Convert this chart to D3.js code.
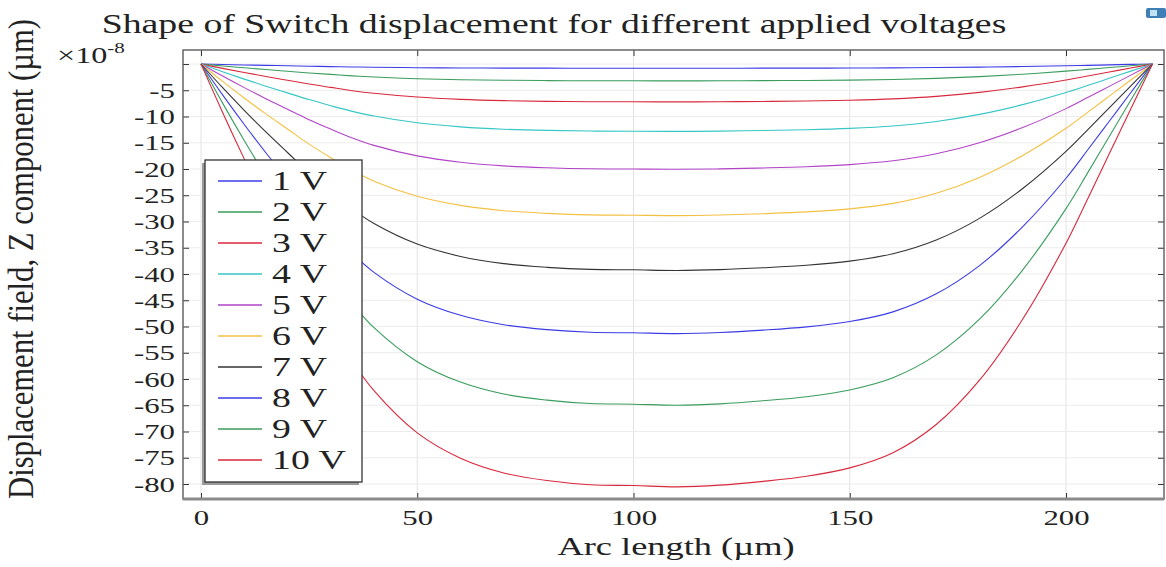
<!DOCTYPE html>
<html>
<head>
<meta charset="utf-8">
<script src="https://cdn.jsdelivr.net/npm/d3@7"></script>
<style>
  body { margin: 0; background: #fff; }
  text { font-family: "Liberation Serif", "Times New Roman", serif; fill: #222; }
</style>
</head>
<body>
<svg id="chart" width="1166" height="567"></svg>
<script>
'use strict';

// arc length samples along the switch (um)
var arcLength = [0, 5, 10, 15, 20, 25, 30, 35, 40, 50, 60, 70, 80, 90, 100, 110, 120, 130, 140, 150, 160, 170, 180, 190, 200, 205, 210, 215, 220];

// z displacement (x1e-8 um), one list per applied voltage
var disp1V  = [0, -0.09, -0.18, -0.26, -0.34, -0.42, -0.5, -0.56, -0.62, -0.7, -0.75, -0.78, -0.79, -0.8, -0.8, -0.8, -0.8, -0.79, -0.78, -0.77, -0.74, -0.68, -0.6, -0.48, -0.34, -0.26, -0.17, -0.08, 0];
var disp2V  = [0, -0.37, -0.72, -1.06, -1.38, -1.7, -1.98, -2.26, -2.48, -2.8, -2.99, -3.1, -3.16, -3.19, -3.2, -3.21, -3.2, -3.17, -3.13, -3.07, -2.95, -2.74, -2.4, -1.94, -1.36, -1.02, -0.68, -0.34, 0];
var disp3V  = [0, -0.83, -1.62, -2.38, -3.1, -3.82, -4.46, -5.08, -5.58, -6.3, -6.73, -6.98, -7.11, -7.19, -7.2, -7.22, -7.19, -7.13, -7.04, -6.9, -6.64, -6.16, -5.4, -4.36, -3.06, -2.3, -1.53, -0.76, 0];
var disp4V  = [0, -1.47, -2.88, -4.22, -5.5, -6.78, -7.94, -9.02, -9.92, -11.2, -11.97, -12.42, -12.65, -12.77, -12.8, -12.84, -12.79, -12.67, -12.52, -12.26, -11.8, -10.94, -9.6, -7.74, -5.44, -4.1, -2.73, -1.36, 0];
var disp5V  = [0, -2.3, -4.5, -6.6, -8.6, -10.6, -12.4, -14.1, -15.5, -17.5, -18.7, -19.4, -19.76, -19.96, -20, -20.06, -19.98, -19.8, -19.56, -19.16, -18.44, -17.1, -15, -12.1, -8.5, -6.4, -4.26, -2.12, 0];
var disp6V  = [0, -3.31, -6.48, -9.5, -12.38, -15.26, -17.86, -20.3, -22.32, -25.2, -26.93, -27.94, -28.45, -28.74, -28.8, -28.89, -28.77, -28.51, -28.17, -27.59, -26.55, -24.62, -21.6, -17.42, -12.24, -9.22, -6.13, -3.05, 0];
var disp7V  = [0, -4.51, -8.82, -12.94, -16.86, -20.78, -24.3, -27.64, -30.38, -34.3, -36.65, -38.02, -38.73, -39.12, -39.2, -39.32, -39.16, -38.81, -38.34, -37.55, -36.14, -33.52, -29.4, -23.72, -16.66, -12.54, -8.35, -4.16, 0];
var disp8V  = [0, -5.89, -11.52, -16.9, -22.02, -27.14, -31.74, -36.1, -39.68, -44.8, -47.87, -49.66, -50.59, -51.1, -51.2, -51.35, -51.15, -50.69, -50.07, -49.05, -47.21, -43.78, -38.4, -30.98, -21.76, -16.38, -10.91, -5.43, 0];
var disp9V  = [0, -7.45, -14.58, -21.38, -27.86, -34.34, -40.18, -45.68, -50.22, -56.7, -60.59, -62.86, -64.02, -64.67, -64.8, -64.99, -64.74, -64.15, -63.37, -62.08, -59.75, -55.4, -48.6, -39.2, -27.54, -20.74, -13.8, -6.87, 0];
var disp10V = [0, -9.23, -18.07, -26.5, -34.53, -42.56, -49.79, -56.61, -62.23, -70.26, -75.08, -77.89, -79.34, -80.14, -80.3, -80.54, -80.22, -79.5, -78.53, -76.93, -74.04, -68.66, -60.23, -48.58, -34.13, -25.7, -17.1, -8.51, 0];

var voltageLabels = ['1 V', '2 V', '3 V', '4 V', '5 V', '6 V', '7 V', '8 V', '9 V', '10 V'];
var xTicks = [0, 50, 100, 150, 200];
var yTicks = [0, -5, -10, -15, -20, -25, -30, -35, -40, -45, -50, -55, -60, -65, -70, -75, -80];

var series = [disp1V, disp2V, disp3V, disp4V, disp5V, disp6V, disp7V, disp8V, disp9V, disp10V];
// comsol style colour cycle
var colors = ['#3b3be6', '#3a9d5d', '#d8283c', '#36c6c6', '#b243c9', '#f4c042', '#333333', '#3b3be6', '#3a9d5d', '#d8283c'];

var svg = d3.select('#chart'),
    // the source picture is stretched sideways, so text is too
    sx = 1.4,
    pLeft = 183, pRight = 1164, pTop = 50, pBottom = 499;

var x = d3.scaleLinear().domain([0, 200]).range([201, 1066]),
    y = d3.scaleLinear().domain([0, -80]).range([64, 484]);

svg.append('defs').append('clipPath').attr('id', 'plotClip')
    .append('rect')
    .attr('x', pLeft).attr('y', pTop)
    .attr('width', pRight - pLeft).attr('height', pBottom - pTop);

//grid
var grid = svg.append('g');
grid.selectAll('line.gx').data(xTicks).enter().append('line')
    .attr('x1', function(d) { return x(d); }).attr('x2', function(d) { return x(d); })
    .attr('y1', pTop).attr('y2', pBottom)
    .attr('stroke', '#e2e2e2').attr('stroke-width', 1);
grid.selectAll('line.gy').data(yTicks).enter().append('line')
    .attr('y1', function(d) { return y(d); }).attr('y2', function(d) { return y(d); })
    .attr('x1', pLeft).attr('x2', pRight)
    .attr('stroke', '#ececec').attr('stroke-width', 1);

//curves
var line = d3.line()
    .x(function(d, i) { return x(arcLength[i]); })
    .y(function(d) { return y(d); })
    .curve(d3.curveCatmullRom.alpha(0.5));

svg.append('g').attr('clip-path', 'url(#plotClip)')
    .selectAll('path').data(series).enter().append('path')
    .attr('d', line)
    .attr('fill', 'none')
    .attr('stroke', function(d, i) { return colors[i]; })
    .attr('stroke-width', 1.1);

//axes
var bottomAxis = svg.append('g').attr('transform', 'translate(0,' + pBottom + ')')
    .call(d3.axisBottom(x).tickValues(xTicks).tickSizeInner(-6).tickSizeOuter(0).tickPadding(10));
var topAxis = svg.append('g').attr('transform', 'translate(0,' + pTop + ')')
    .call(d3.axisTop(x).tickValues(xTicks).tickSizeInner(-6).tickSizeOuter(0).tickFormat(''));
var leftAxis = svg.append('g').attr('transform', 'translate(' + pLeft + ',0)')
    .call(d3.axisLeft(y).tickValues(yTicks).tickSizeInner(-6).tickSizeOuter(0).tickPadding(8)
        .tickFormat(function(d) { return d === 0 ? '' : String(d); }));
var rightAxis = svg.append('g').attr('transform', 'translate(' + pRight + ',0)')
    .call(d3.axisRight(y).tickValues(yTicks).tickSizeInner(-6).tickSizeOuter(0).tickFormat(''));

[bottomAxis, topAxis, leftAxis, rightAxis].forEach(function(g) {
    g.select('.domain').remove();
    g.selectAll('.tick line').attr('stroke', '#333');
    g.selectAll('.tick text')
        .attr('font-family', '"Liberation Serif", "Times New Roman", serif')
        .attr('font-size', 22)
        .attr('fill', '#222');
});
bottomAxis.selectAll('.tick text').attr('transform', 'scale(' + sx + ',1)');
leftAxis.selectAll('.tick text').attr('x', -8 / sx).attr('transform', 'scale(' + sx + ',1)');

//frame
svg.append('rect')
    .attr('x', pLeft).attr('y', pTop)
    .attr('width', pRight - pLeft).attr('height', pBottom - pTop)
    .attr('fill', 'none').attr('stroke', '#666').attr('stroke-width', 1.5);
svg.append('line')
    .attr('x1', pLeft).attr('x2', pRight).attr('y1', pBottom).attr('y2', pBottom)
    .attr('stroke', '#8a8a8a').attr('stroke-width', 3);

//texts
var stretched = function(tx, ty, anchor, size, str) {
    return svg.append('text')
        .attr('transform', 'translate(' + tx + ',' + ty + ') scale(' + sx + ',1)')
        .attr('text-anchor', anchor)
        .attr('font-size', size)
        .text(str);
};

stretched(554, 33, 'middle', 27, 'Shape of Switch displacement for different applied voltages');
stretched(676, 555, 'middle', 26, 'Arc length (\u00b5m)');

var exp = stretched(57, 63, 'start', 23, '\u00d710');
exp.append('tspan').attr('dy', -10).attr('font-size', 15).text('-8');

svg.append('text')
    .attr('transform', 'translate(33,259) scale(' + sx + ',1) rotate(-90)')
    .attr('text-anchor', 'middle')
    .attr('font-size', 26)
    .attr('textLength', 480)
    .attr('lengthAdjust', 'spacingAndGlyphs')
    .text('Displacement field, Z component (\u00b5m)');

//legend
var legend = svg.append('g');
legend.append('rect')
    .attr('x', 202).attr('y', 163).attr('width', 157).attr('height', 322)
    .attr('fill', '#9a9a9a');
legend.append('rect')
    .attr('x', 205).attr('y', 160).attr('width', 157).attr('height', 322)
    .attr('fill', '#fff').attr('stroke', '#333').attr('stroke-width', 1.3);

var items = legend.selectAll('g.item').data(voltageLabels).enter().append('g')
    .attr('transform', function(d, i) { return 'translate(0,' + (181 + i * 31) + ')'; });
items.append('line')
    .attr('x1', 218).attr('x2', 262).attr('y1', 0).attr('y2', 0)
    .attr('stroke', function(d, i) { return colors[i]; })
    .attr('stroke-width', 1.6);
items.append('text')
    .attr('transform', 'translate(272,0) scale(' + sx + ',1)')
    .attr('dy', '0.35em')
    .attr('font-size', 27)
    .text(function(d) { return d; });

//little toolbar icon in the corner
svg.append('rect')
    .attr('x', 1146).attr('y', 8).attr('width', 20).attr('height', 10)
    .attr('rx', 2).attr('fill', '#3f7fb6');
svg.append('rect')
    .attr('x', 1150).attr('y', 10).attr('width', 7).attr('height', 6)
    .attr('fill', '#bfe3f2');
</script>
</body>
</html>
